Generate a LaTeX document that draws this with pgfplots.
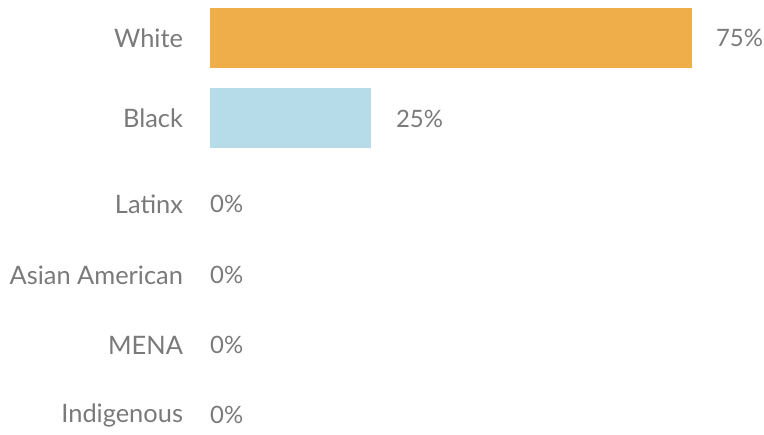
\documentclass[border=0pt]{standalone}
\usepackage{pgfplots}
\pgfplotsset{compat=1.18}
\usepackage{fontspec}
\setmainfont{Lato}
\definecolor{barorange}{HTML}{EFAE4A}
\definecolor{barblue}{HTML}{B6DCE9}
\definecolor{txtgray}{HTML}{7A7A7A}
\begin{document}
\begin{tikzpicture}[x=1bp,y=1bp]
\begin{axis}[
  scale only axis, width=764bp, height=435bp,
  xmin=-32.71, xmax=86.29, ymin=-435, ymax=0,
  clip=false, axis line style={draw=none},
  xbar, bar width=60, bar shift=0pt,
  xtick=\empty,
  ytick={-38,-118.5,-204,-275,-345,-415},
  yticklabels={White,Black,Latinx,Asian American,MENA,Indigenous},
  major tick length=0pt,
  /pgf/number format/assume math mode=true,
  yticklabel style={anchor=east, xshift=186.5bp, font=\fontsize{25.5}{30}\selectfont, text=txtgray},
  nodes near coords={\pgfmathprintnumber{\pgfplotspointmeta}\%},
  nodes near coords style={anchor=west, font=\fontsize{24}{28}\selectfont, text=txtgray},
  point meta=x,
]
\addplot[fill=barorange, draw=none, nodes near coords style={xshift=21bp}] coordinates {(75,-38)};
\addplot[fill=barblue, draw=none, nodes near coords style={xshift=22bp}] coordinates {(25,-118.5)};
\addplot[fill=none, draw=none, nodes near coords style={xshift=-3.3bp}] coordinates {(0,-204) (0,-275) (0,-345) (0,-415)};
\end{axis}
\pgfresetboundingbox
\path (0,0) rectangle (764bp,435bp);
\end{tikzpicture}
\end{document}
